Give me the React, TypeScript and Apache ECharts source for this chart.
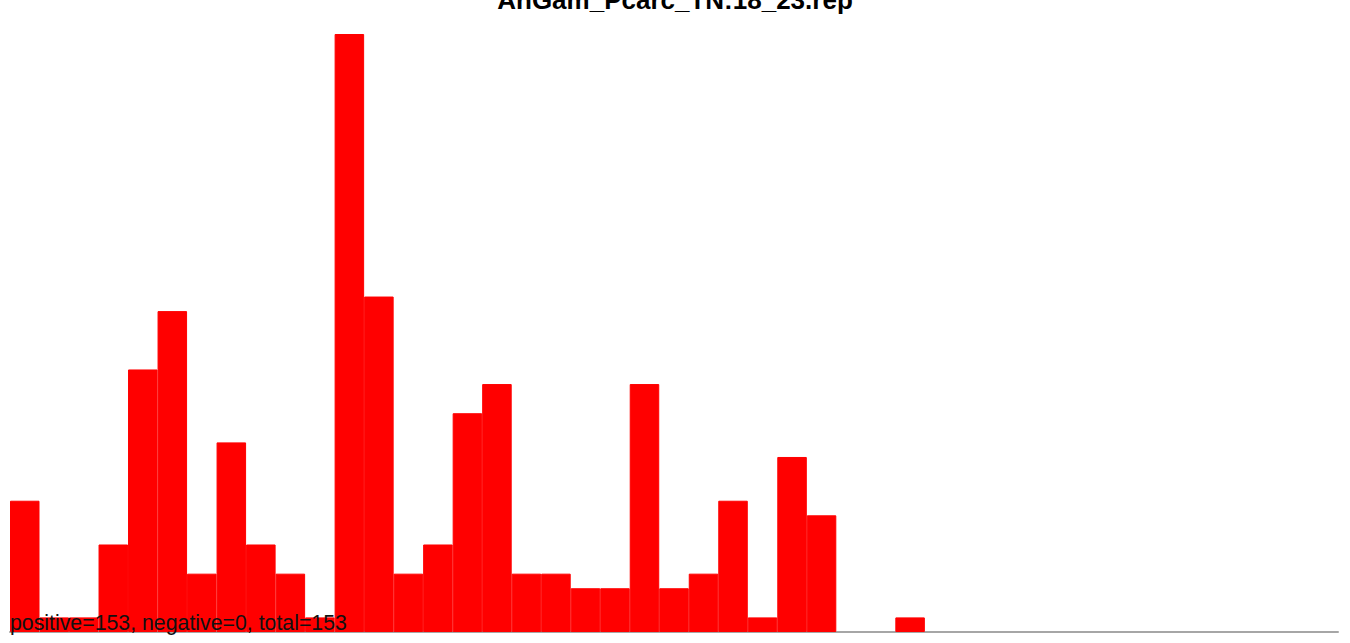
import React, { useEffect, useRef } from "react";
import * as echarts from "echarts";

const titleText = "AnGam_Pcarc_TN:18_23.rep";
const footerText = "positive=153, negative=0, total=153";
const binLabels: string[] = [
  "0", "1", "2", "3", "4", "5", "6", "7", "8", "9",
  "10", "11", "12", "13", "14", "15", "16", "17", "18", "19",
  "20", "21", "22", "23", "24", "25", "26", "27", "28", "29",
  "30", "31", "32", "33", "34", "35", "36", "37", "38", "39",
  "40", "41", "42", "43", "44",
];
const binValues: number[] = [
  9, 1, 1, 6, 18, 22, 4, 13, 6, 4,
  1, 41, 23, 4, 6, 15, 17, 4, 4, 3,
  3, 17, 3, 4, 9, 1, 12, 8, 0, 0,
  1, 0, 0, 0, 0, 0, 0, 0, 0, 0,
  0, 0, 0, 0, 0,
];
const yMax = 41;

export default function App() {
  const ref = useRef<HTMLDivElement>(null);
  useEffect(() => {
    if (!ref.current) return;
    const chart = echarts.init(ref.current, null, { renderer: "svg" });
    chart.setOption({
      animation: false,
      backgroundColor: "#ffffff",
      grid: { left: 10, right: 12, top: 34, bottom: 11, containLabel: false },
      xAxis: {
        type: "category",
        data: binLabels,
        boundaryGap: true,
        axisLine: { show: true, lineStyle: { color: "#a6a6a6", width: 2 } },
        axisTick: { show: false },
        axisLabel: { show: false },
        splitLine: { show: false },
      },
      yAxis: {
        type: "value",
        min: 0,
        max: yMax,
        axisLine: { show: false },
        axisTick: { show: false },
        axisLabel: { show: false },
        splitLine: { show: false },
      },
      series: [
        {
          type: "bar",
          data: binValues.map((v) =>
            v === 0
              ? { value: v, itemStyle: { borderWidth: 0 } }
              : { value: v }
          ),
          barWidth: "100%",
          barCategoryGap: 0,
          itemStyle: { color: "#ff0000", borderColor: "#ff0000", borderWidth: 1 },
          z: 1,
        },
      ],
      graphic: [
        {
          type: "text",
          left: "center",
          top: -13,
          z: 100,
          style: {
            text: titleText,
            font: "bold 26px 'Liberation Sans', Arial, sans-serif",
            fill: "#000000",
          },
        },
        {
          type: "text",
          x: 10,
          y: 612,
          z: 100,
          style: {
            text: footerText,
            font: "21.3px 'Liberation Sans', Arial, sans-serif",
            fill: "#111111",
          },
        },
      ],
    });
    return () => chart.dispose();
  }, []);
  return (
    <div
      ref={ref}
      style={{ position: "fixed", left: 0, top: 0, width: 1350, height: 643 }}
    />
  );
}
